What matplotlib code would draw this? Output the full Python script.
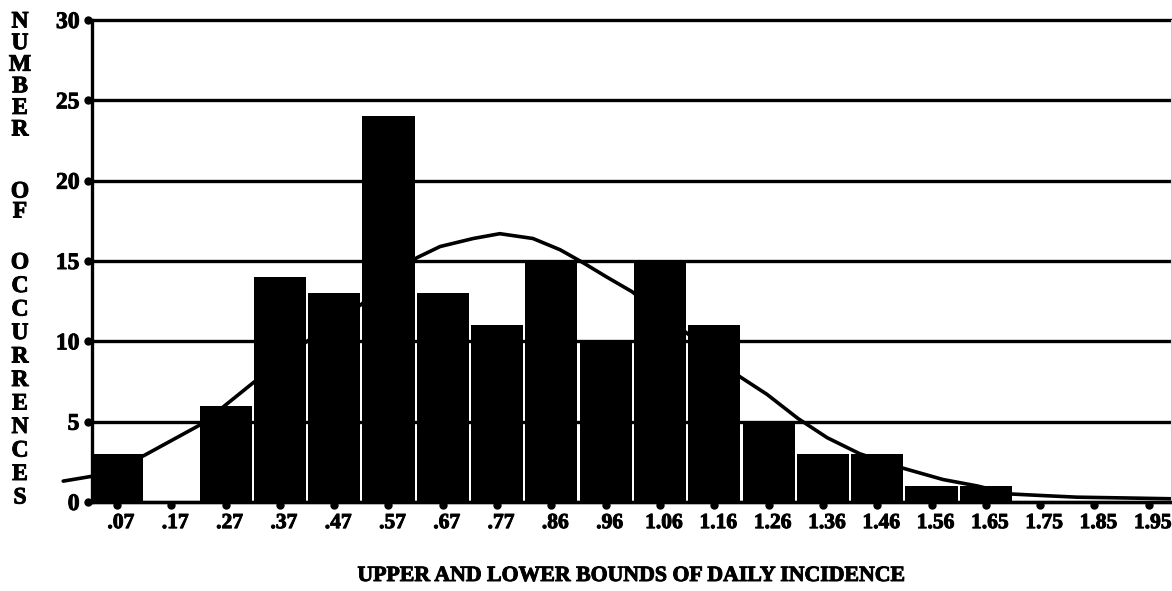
import matplotlib
matplotlib.use('Agg')
import matplotlib.pyplot as plt
import matplotlib.transforms as mtransforms
import matplotlib.patheffects as pe
import numpy as np

# bin labels (upper/lower bounds of daily incidence) and counts per bin
bin_labels = ['.07', '.17', '.27', '.37', '.47', '.57', '.67', '.77', '.86', '.96',
              '1.06', '1.16', '1.26', '1.36', '1.46', '1.56', '1.65', '1.75', '1.85', '1.95']
counts = [3, 0, 6, 14, 13, 24, 13, 11, 15, 10, 15, 11, 5, 3, 3, 1, 1, 0, 0, 0]

# fitted curve (position in bin units, count)
curve_pos = [-0.99, -0.46, 0.48, 1.53, 1.95, 2.50, 3.5, 4.5, 5.52, 5.95, 6.56, 7.05,
             7.66, 8.16, 8.58, 9.02, 9.48, 10.5, 11.47, 11.97, 12.54, 13.08, 13.68,
             14.48, 15.21, 15.84, 16.45, 17.05, 17.68, 18.60, 19.43]
curve_val = [1.3, 1.6, 2.86, 4.8, 5.9, 7.4, 10.0, 12.3, 15.2, 15.9, 16.4, 16.7,
             16.4, 15.7, 14.9, 14.0, 13.1, 10.5, 7.8, 6.7, 5.2, 4.0, 3.0,
             2.1, 1.4, 1.0, 0.5, 0.4, 0.3, 0.25, 0.2]

y_ticks = [0, 5, 10, 15, 20, 25, 30]

plt.rcParams['font.family'] = ['Liberation Serif', 'DejaVu Serif']
plt.rcParams['font.weight'] = 'bold'

heavy = [pe.withStroke(linewidth=0.7, foreground='black')]

W, H = 1172, 591
fig = plt.figure(figsize=(W / 100, H / 100), dpi=100)
ax = fig.add_axes([92 / W, 1 - 502 / H, (1171 - 92) / W, (502 - 20) / H])

x = np.arange(len(bin_labels))

# gridlines behind everything
for y in y_ticks:
    ax.axhline(y, color='black', lw=2.4, zorder=1, clip_on=False)

ax.plot(curve_pos, curve_val, color='black', lw=2.6, zorder=2, clip_on=False,
        solid_capstyle='round')
ax.bar(x, counts, width=0.96, color='black', zorder=3)

ax.set_xlim(-0.46, 19.41)
ax.set_ylim(0, 30)

ax.spines['top'].set_visible(False)
ax.spines['left'].set_linewidth(2.4)
ax.spines['bottom'].set_linewidth(2.4)
ax.spines['right'].set_linewidth(0.8)
ax.spines['right'].set_color('#cccccc')

ax.set_xticks(x)
ax.set_xticklabels(bin_labels, fontsize=15.5, fontweight='bold')
ax.set_yticks(y_ticks)
ax.set_yticklabels([str(v) for v in y_ticks], fontsize=17, fontweight='bold')
ax.tick_params(axis='x', length=0, pad=8)
ax.tick_params(axis='y', length=0, pad=9)

shift = mtransforms.ScaledTranslation(4 / 100, 0, fig.dpi_scale_trans)
for lab in ax.get_xticklabels():
    lab.set_transform(lab.get_transform() + shift)
    lab.set_path_effects(heavy)
for lab in ax.get_yticklabels():
    lab.set_path_effects(heavy)

# round tick dots
dot_x = mtransforms.offset_copy(ax.transData, fig=fig, x=0, y=-3, units='dots')
ax.plot(x, np.zeros(len(x)), 'o', color='black', ms=5, transform=dot_x,
        clip_on=False, zorder=4)
dot_y = mtransforms.offset_copy(ax.transData, fig=fig, x=-4, y=0, units='dots')
ax.plot(np.full(len(y_ticks), -0.46), y_ticks, 'o', color='black', ms=5,
        transform=dot_y, clip_on=False, zorder=4)

fig.text(631 / W, 1 - 576 / H, 'UPPER AND LOWER BOUNDS OF DAILY INCIDENCE',
         ha='center', va='center', fontsize=15.7, fontweight='bold',
         path_effects=heavy)

# stacked vertical axis title
groups = [('NUMBER', 22, 21.6), ('OF', 192, 20.0), ('OCCURRENCES', 263, 23.5)]
for word, start, step in groups:
    for i, ch in enumerate(word):
        fig.text(20 / W, 1 - (start + i * step) / H, ch, ha='center', va='center',
                 fontsize=17, fontweight='bold', path_effects=heavy)

fig.savefig('out.png', dpi=100)
